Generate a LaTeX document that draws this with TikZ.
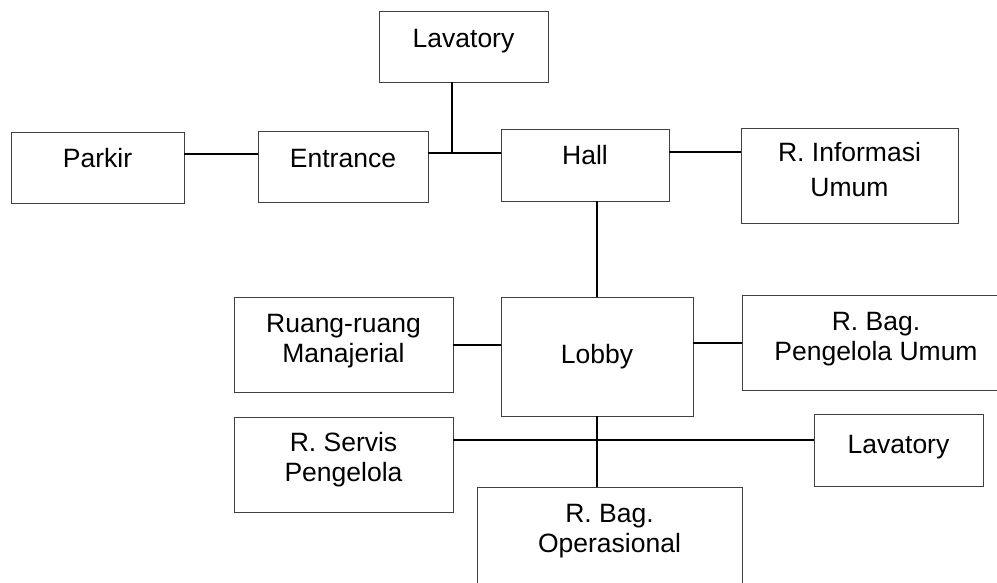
\documentclass[tikz,border=0pt]{standalone}
\usepackage{fontspec}
\setmainfont{Liberation Sans}
\begin{document}
\begin{tikzpicture}[x=1pt,y=-1pt,
  box/.style={draw=black!75, line width=1pt, inner sep=0pt, outer sep=0pt},
  txt/.style={font=\fontsize{26.5pt}{30pt}\selectfont, align=center, inner sep=0pt},
  one/.style={txt, text height=19pt, text depth=0pt},
  link/.style={line width=1.6pt, black}]
\useasboundingbox (0,0) rectangle (997,582);
\clip (0,0) rectangle (997,582);
\fill[white] (0,0) rectangle (997,582);

% rooms (centre, width, height)
\node[box, minimum width=169pt, minimum height=71pt,
  label={[one, yshift=9pt]center:Lavatory}] (lavA) at (463.5,46.5) {};
\node[box, minimum width=173pt, minimum height=71pt,
  label={[one, yshift=10pt]center:Parkir}] (parkir) at (97.5,167.5) {};
\node[box, minimum width=170pt, minimum height=71pt,
  label={[one, yshift=9pt]center:Entrance}] (entrance) at (343,166.5) {};
\node[box, minimum width=168pt, minimum height=72pt,
  label={[one, yshift=10pt]center:Hall}] (hall) at (585,165) {};
\node[box, minimum width=217pt, minimum height=95pt,
  label={[txt, yshift=6pt]center:R. Informasi\\[5pt]Umum}] (info) at (849.5,175.5) {};
\node[box, minimum width=219pt, minimum height=95pt,
  label={[txt, yshift=3pt]center:Ruang-ruang\\Manajerial}] (manaj) at (343.5,344.5) {};
\node[box, minimum width=192pt, minimum height=119pt,
  label={[one, yshift=3pt]center:Lobby}] (lobby) at (597,356.5) {};
\node[box, minimum width=268pt, minimum height=95pt,
  label={[txt, yshift=3.5pt]center:R. Bag.\\Pengelola Umum}] (pengum) at (876,342.5) {};
\node[box, minimum width=219pt, minimum height=95pt,
  label={[txt, yshift=4.5pt]center:R. Servis\\Pengelola}] (servis) at (343.5,464.5) {};
\node[box, minimum width=169pt, minimum height=72pt,
  label={[one, yshift=6pt]center:Lavatory}] (lavB) at (898.5,450) {};
\node[box, minimum width=265pt, minimum height=108pt,
  label={[txt, yshift=9.5pt]center:R. Bag.\\Operasional}] (operas) at (609.5,541) {};

% levels of the horizontal links
\coordinate (lvA) at (0,154);
\coordinate (lvB) at (0,153);
\coordinate (lvC) at (0,152);
\coordinate (lvD) at (0,345);
\coordinate (lvE) at (0,343);
\coordinate (lvF) at (0,440);
\coordinate (jn) at (452,153);

% links
\draw[link] (parkir.east |- lvA) -- (entrance.west |- lvA);
\draw[link] (entrance.east |- lvB) -- (hall.west |- lvB);
\draw[link] (jn) -- (jn |- lavA.south);
\draw[link] (hall.east |- lvC) -- (info.west |- lvC);
\draw[link] (lobby.north) -- (lobby.north |- hall.south);
\draw[link] (manaj.east |- lvD) -- (lobby.west |- lvD);
\draw[link] (lobby.east |- lvE) -- (pengum.west |- lvE);
\draw[link] (servis.east |- lvF) -- (lavB.west |- lvF);
\draw[link] (lobby.south) -- (lobby.south |- operas.north);
\end{tikzpicture}
\end{document}
